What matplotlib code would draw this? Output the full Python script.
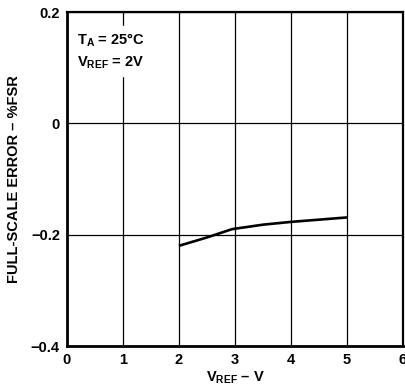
import matplotlib
matplotlib.use("Agg")
import matplotlib.pyplot as plt

# full-scale error vs reference voltage
vref = [2.0, 2.5, 2.95, 3.5, 4.0, 4.5, 5.0]
fs_err = [-0.220, -0.205, -0.190, -0.182, -0.177, -0.173, -0.169]

xticks = [0, 1, 2, 3, 4, 5, 6]
yticks = [-0.4, -0.2, 0, 0.2]
ylabels = ["\u22120.4", "\u22120.2", "0", "0.2"]

plt.rcParams['font.family'] = ['Liberation Sans', 'DejaVu Sans']
plt.rcParams['font.weight'] = 'bold'
plt.rcParams['mathtext.fontset'] = 'custom'
plt.rcParams['mathtext.rm'] = 'Liberation Sans:bold'
plt.rcParams['mathtext.bf'] = 'Liberation Sans:bold'

fig = plt.figure(figsize=(4.05, 3.89), dpi=100)
ax = fig.add_axes([0.165, 0.1105, 0.83, 0.8585])

ax.plot(vref, fs_err, color="black", lw=1.9, solid_capstyle="butt")

ax.set_xlim(0, 6)
ax.set_ylim(-0.4, 0.2)
ax.set_xticks(xticks)
ax.set_yticks(yticks)
ax.set_yticklabels(ylabels)
ax.grid(True, color="black", lw=0.9)
ax.tick_params(length=0, labelsize=10.5, pad=5)
for lab in ax.get_xticklabels() + ax.get_yticklabels():
    lab.set_fontweight("bold")

for side in ["left", "bottom"]:
    ax.spines[side].set_linewidth(2.0)
for side in ["top", "right"]:
    ax.spines[side].set_linewidth(1.6)

ax.set_xlabel("V$_{\\mathbf{REF}}$ \u2013 V", fontsize=10.5, fontweight="bold", labelpad=2)
ax.set_ylabel("FULL-SCALE ERROR \u2013 %FSR", fontsize=10.5, fontweight="bold", labelpad=7)

ax.text(0.18, 0.13, "T$_{\\mathbf{A}}$ = 25\u00b0C\nV$_{\\mathbf{REF}}$ = 2V",
        fontsize=10.5, fontweight="bold", va="center", ha="left",
        linespacing=1.45, backgroundcolor="white")

fig.savefig("out.png", dpi=100)
